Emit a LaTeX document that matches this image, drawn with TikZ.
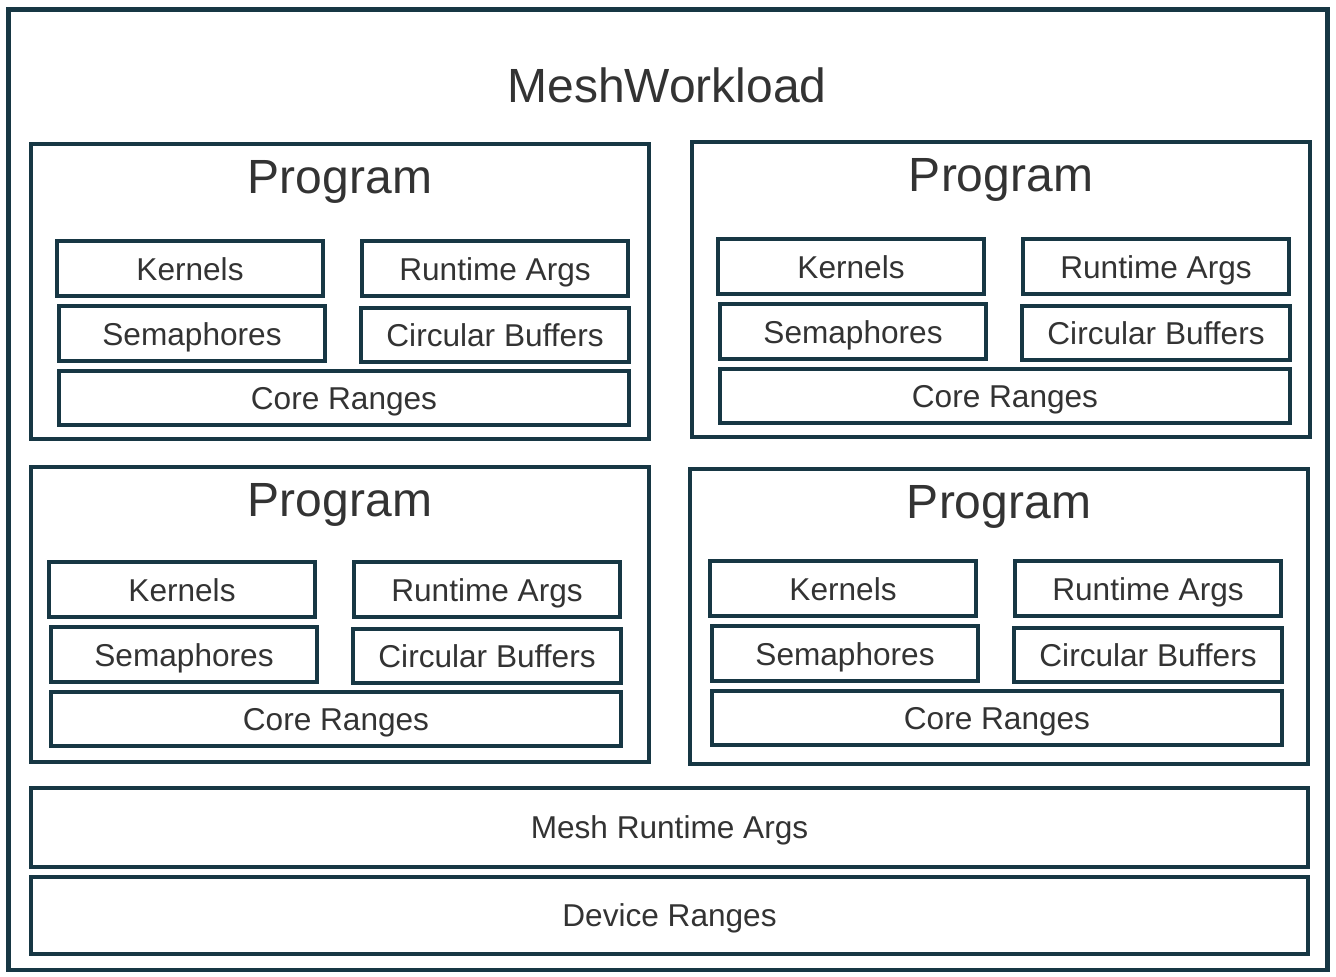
\documentclass[tikz,border=0pt]{standalone}
\usepackage{fontspec}
\setmainfont{Liberation Sans}
\definecolor{framecol}{HTML}{173744}
\definecolor{textcol}{HTML}{333333}
\newcommand{\pxu}{0.5pt}

% one program block: name, top-left corner x, y, inner shift dx, dy
\newcommand{\progblock}[5]{%
   \node[progbox] (#1) at (#2,#3) {};
   \node[progtitle] (#1-title) at ({#2+309},{#3+49}) {Program};
   \node[partbox] (#1-kern) at ({#2+#4+26},{#3+#5+97}) {Kernels};
   \node[partbox] (#1-args) at ({#2+#4+331},{#3+#5+97}) {Runtime Args};
   \node[partbox] (#1-sem) at ({#2+#4+28},{#3+#5+162}) {Semaphores};
   \node[partbox, minimum width=268*\pxu, minimum height=54*\pxu] (#1-cb) at ({#2+#4+330},{#3+#5+164}) {Circular Buffers};
   \node[partbox, minimum width=570*\pxu, minimum height=54*\pxu] (#1-core) at ({#2+#4+28},{#3+#5+227}) {Core Ranges};
}

\begin{document}
\begin{tikzpicture}[
         x=\pxu, y=-\pxu,
         frame/.style={draw=framecol, line width=2.2pt, outer sep=0pt, inner sep=0pt, text=textcol, anchor=north west},
         progbox/.style={frame, minimum width=618*\pxu, minimum height=295*\pxu},
         partbox/.style={frame, minimum width=266*\pxu, minimum height=55*\pxu,
            font=\fontsize{15.8}{18}\selectfont, text height=1.15em, text depth=0pt},
         strip/.style={frame, minimum width=1277*\pxu,
            font=\fontsize{15.8}{18}\selectfont, text height=1.1em, text depth=0pt},
         progtitle/.style={text=textcol, anchor=base, inner sep=0pt, font=\fontsize{24}{29}\selectfont}
      ]
         \useasboundingbox (0,0) rectangle (1336,976);

         % Outer workload frame
         \node[frame, minimum width=1319*\pxu, minimum height=960.5*\pxu] (workload) at (8.5,9.5) {};
         \node[progtitle] (workload-title) at (667,102) {MeshWorkload};

         % Four programs
         \progblock{progA}{31}{144}{0}{0}
         \progblock{progB}{692}{142}{0}{0}
         \progblock{progC}{31}{467}{-8}{-2}
         \progblock{progD}{690}{469}{-6}{-5}

         % Mesh level strips
         \node[strip, minimum height=79*\pxu] (meshargs) at (31,788) {Mesh Runtime Args};
         \node[strip, minimum height=77*\pxu] (devranges) at (31,877) {Device Ranges};
      \end{tikzpicture}
\end{document}
